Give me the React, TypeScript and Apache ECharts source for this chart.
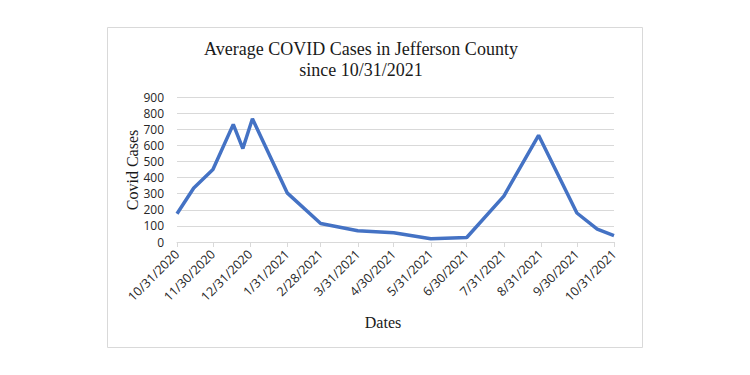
import React, { useEffect, useRef } from "react";
import * as echarts from "echarts";

const pointDates = [
  "2020-10-31", "2020-11-14", "2020-11-30", "2020-12-17", "2020-12-25",
  "2021-01-02", "2021-01-31", "2021-02-28", "2021-03-31", "2021-04-30",
  "2021-05-31", "2021-06-30", "2021-07-31", "2021-08-29", "2021-09-30",
  "2021-10-17", "2021-10-31",
];
const cases = [175, 335, 450, 730, 580, 765, 305, 115, 70, 57, 20, 28, 285, 662, 180, 80, 40];

const tickDates = [
  "2020-10-31", "2020-11-30", "2020-12-31", "2021-01-31", "2021-02-28",
  "2021-03-31", "2021-04-30", "2021-05-31", "2021-06-30", "2021-07-31",
  "2021-08-31", "2021-09-30", "2021-10-31",
];
const tickLabels = [
  "10/31/2020", "11/30/2020", "12/31/2020", "1/31/2021", "2/28/2021",
  "3/31/2021", "4/30/2021", "5/31/2021", "6/30/2021", "7/31/2021",
  "8/31/2021", "9/30/2021", "10/31/2021",
];

const titleLines = ["Average COVID Cases in Jefferson County", "since 10/31/2021"];

const dayOf = (s: string) => {
  const [y, m, d] = s.split("-").map(Number);
  const [y0, m0, d0] = tickDates[0].split("-").map(Number);
  return Math.round((Date.UTC(y, m - 1, d) - Date.UTC(y0, m0 - 1, d0)) / 86400000);
};

export default function App() {
  const ref = useRef<HTMLDivElement>(null);
  useEffect(() => {
    if (!ref.current) return;
    const chart = echarts.init(ref.current, undefined, { renderer: "svg" });
    const tickDays = tickDates.map(dayOf);
    const labelMap: Record<number, string> = {};
    tickDays.forEach((d, i) => (labelMap[d] = tickLabels[i]));
    const serif = "'Liberation Serif', 'DejaVu Serif', serif";
    const sans = "'Open Sans', 'Liberation Sans', sans-serif";
    chart.setOption({
      animation: false,
      backgroundColor: "#ffffff",
      graphic: [
        {
          type: "rect",
          shape: { x: 107.5, y: 27.5, width: 535, height: 320 },
          style: { fill: "none", stroke: "#d9d9d9", lineWidth: 1 },
          z: -1,
        },
        {
          type: "text",
          x: 361,
          y: 40,
          style: {
            text: titleLines[0],
            font: `18px ${serif}`,
            fill: "#1a1a1a",
            textAlign: "center",
          },
        },
        {
          type: "text",
          x: 361,
          y: 61,
          style: {
            text: titleLines[1],
            font: `18px ${serif}`,
            fill: "#1a1a1a",
            textAlign: "center",
          },
        },
        {
          type: "text",
          x: 132,
          y: 170,
          rotation: Math.PI / 2,
          style: {
            text: "Covid Cases",
            font: `16px ${serif}`,
            fill: "#1a1a1a",
            textAlign: "center",
            textVerticalAlign: "middle",
          },
        },
        {
          type: "text",
          x: 383,
          y: 322,
          style: {
            text: "Dates",
            font: `16px ${serif}`,
            fill: "#1a1a1a",
            textAlign: "center",
            textVerticalAlign: "middle",
          },
        },
      ],
      grid: { left: 177, right: 136, top: 97, bottom: 133, containLabel: false },
      xAxis: {
        type: "value",
        min: 0,
        max: 365,
        axisLine: { show: true, lineStyle: { color: "#d9d9d9", width: 1 } },
        axisTick: {
          show: true,
          customValues: tickDays,
          length: 5,
          lineStyle: { color: "#d9d9d9" },
        },
        axisLabel: {
          customValues: tickDays,
          rotate: 45,
          margin: 10,
          fontSize: 12.5,
          fontFamily: sans,
          color: "#262626",
          formatter: (v: number) => labelMap[v] ?? "",
        },
        splitLine: { show: false },
      },
      yAxis: {
        type: "value",
        min: 0,
        max: 900,
        interval: 100,
        axisLine: { show: false },
        axisTick: { show: false },
        axisLabel: { fontSize: 12, fontFamily: sans, color: "#262626", margin: 13 },
        splitLine: { lineStyle: { color: "#d9d9d9", width: 1 } },
      },
      series: [
        {
          type: "line",
          data: pointDates.map((d, i) => [dayOf(d), cases[i]]),
          showSymbol: false,
          symbol: "none",
          lineStyle: { color: "#4472c4", width: 3.5 },
        },
      ],
    });
    return () => chart.dispose();
  }, []);
  return (
    <div
      ref={ref}
      style={{ position: "fixed", left: 0, top: 0, width: 750, height: 375 }}
    />
  );
}
